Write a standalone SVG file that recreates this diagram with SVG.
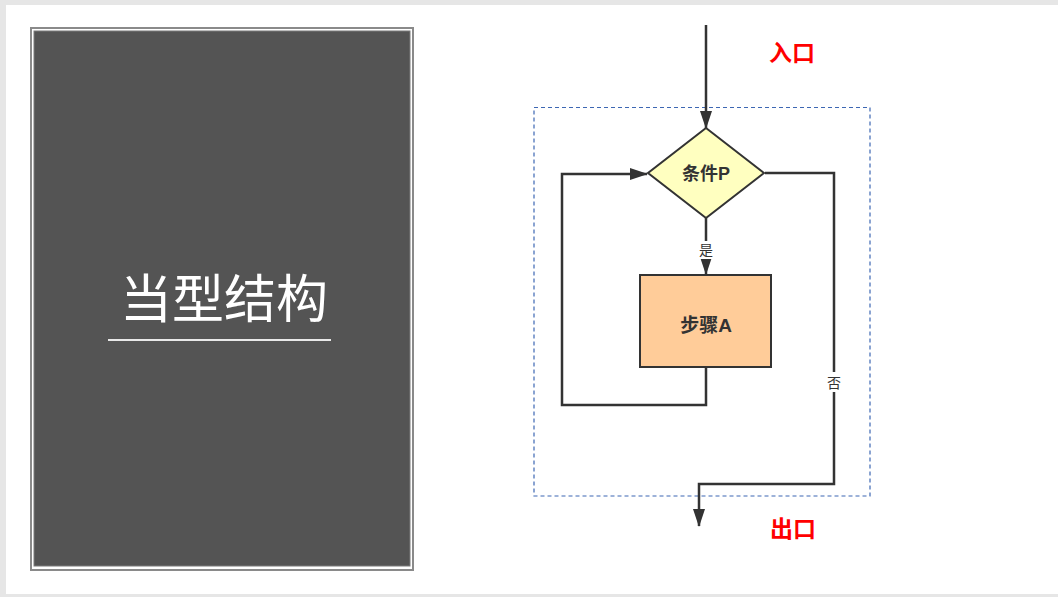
<svg xmlns="http://www.w3.org/2000/svg" width="1058" height="597" viewBox="0 0 1058 597">
<defs>
<style>
.ln{fill:none;stroke:#333;stroke-width:2.5}
.lbl{font-family:"Liberation Sans","Noto Sans CJK SC",sans-serif;font-size:14px;fill:#333;text-anchor:middle}
.nt{font-family:"Liberation Sans","Noto Sans CJK SC",sans-serif;font-weight:bold;fill:#333;text-anchor:middle}
.red{font-family:"Liberation Sans","Noto Sans CJK SC",sans-serif;font-weight:bold;font-size:23px;fill:#ff0000}
</style>
<marker id="ahb" viewBox="0 0 18 12" refX="17" refY="6" markerWidth="18" markerHeight="12" markerUnits="userSpaceOnUse" orient="auto">
<path d="M0,0 L18,6 L0,12 z" fill="#333"/>
</marker>
</defs>
<rect x="0" y="0" width="1058" height="597" fill="#e6e6e6"/>
<rect x="6" y="5" width="1052" height="589" fill="#ffffff"/>
<g id="panel">
<rect x="31" y="28" width="382" height="542" fill="#ffffff" stroke="#8a8a8a" stroke-width="2"/>
<rect x="34" y="31" width="376" height="535" fill="#545454" stroke="#7a7a7a" stroke-width="1"/>
<text x="224" y="318" font-family="'Noto Sans CJK SC',sans-serif" font-weight="400" font-size="52" fill="#ffffff" text-anchor="middle">当型结构</text>
<line x1="108" y1="340" x2="331" y2="340" stroke="#e8e8e8" stroke-width="2"/>
</g>
<g id="loop-boundary">
<rect x="534" y="107.5" width="336" height="388.5" fill="none" stroke="#3d67b3" stroke-width="1.2" stroke-dasharray="4,3"/>
</g>
<g id="connectors">
<line class="ln" x1="706" y1="25" x2="706" y2="128" marker-end="url(#ahb)"/>
<line class="ln" x1="706" y1="218" x2="706" y2="274" marker-end="url(#ahb)"/>
<polyline class="ln" points="706,367 706,405 562,405 562,174 647,174" marker-end="url(#ahb)"/>
<polyline class="ln" points="765,173 834,173 834,484 699,484 699,526" marker-end="url(#ahb)"/>
<rect x="697" y="241" width="18" height="18" fill="#ffffff"/>
<text class="lbl" x="706" y="255">是</text>
<rect x="825" y="372" width="18" height="20" fill="#ffffff"/>
<text class="lbl" x="834" y="388">否</text>
</g>
<g id="cond">
<polygon points="706,128 764,173 706,218 648,173" fill="#ffffc0" stroke="#333" stroke-width="2"/>
<text class="nt" x="706" y="180" font-size="18">条件P</text>
</g>
<g id="stepA">
<rect x="640" y="275" width="131" height="92" fill="#ffcc99" stroke="#333" stroke-width="2"/>
<text class="nt" x="706" y="332" font-size="19">步骤A</text>
</g>
<text class="red" x="769" y="61">入口</text>
<text class="red" x="770" y="537">出口</text>
</svg>
